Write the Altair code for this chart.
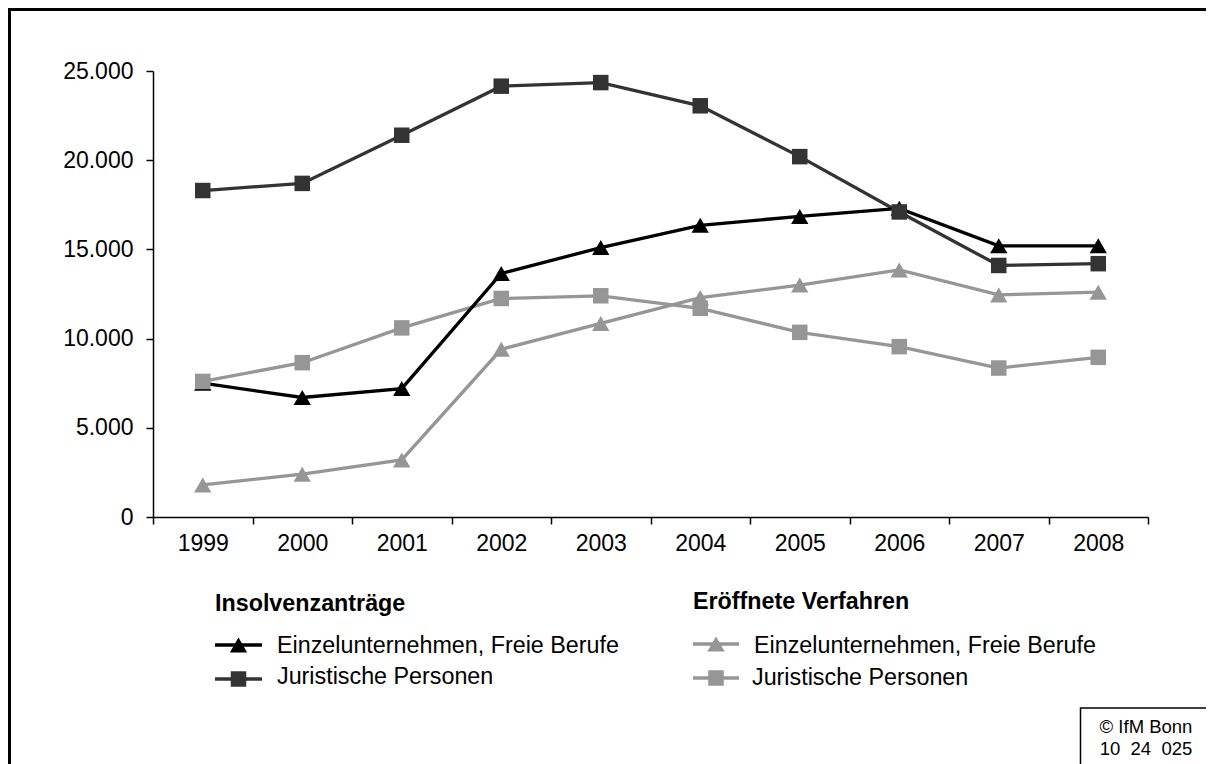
import altair as alt
import pandas as pd

# ---- data ----
years = ["1999", "2000", "2001", "2002", "2003", "2004", "2005", "2006", "2007", "2008"]
ins_einzel = [7500, 6700, 7200, 13650, 15100, 16350, 16850, 17300, 15200, 15200]
ins_jur = [18300, 18700, 21400, 24150, 24350, 23050, 20200, 17100, 14100, 14200]
er_einzel = [1800, 2400, 3200, 9400, 10850, 12300, 13000, 13850, 12450, 12600]
er_jur = [7600, 8650, 10600, 12250, 12400, 11700, 10350, 9550, 8350, 8950]
y_ticks = [0, 5000, 10000, 15000, 20000, 25000]

legend_head_left = "Insolvenzanträge"
legend_head_right = "Eröffnete Verfahren"
label_einzel = "Einzelunternehmen, Freie Berufe"
label_jur = "Juristische Personen"
copyright_lines = ["© IfM Bonn", "10\u00a0\u00a024\u00a0\u00a0025"]

FONT = "Liberation Sans"
FS = 23
LFS = 23.3
BLACK = "#000000"
DARK = "#333333"
GREY = "#969696"
LW = 3.3
SQ_SIZE = 240
TRI_SIZE = 300

W, H = 995, 446

series = [
    ("ins_einzel", ins_einzel, BLACK, "triangle-up"),
    ("ins_jur", ins_jur, DARK, "square"),
    ("er_einzel", er_einzel, GREY, "triangle-up"),
    ("er_jur", er_jur, GREY, "square"),
]

x_enc = alt.X(
    "year:O",
    sort=years,
    bandPosition=0.5,
    scale=alt.Scale(type="band", paddingInner=0, paddingOuter=0),
    axis=alt.Axis(
        title=None, labelAngle=0, tickBand="extent", tickSize=7,
        labelPadding=8, labelFontSize=FS, labelFont=FONT, labelColor="black",
        domainColor="black", tickColor="black", domainWidth=1.5, tickWidth=1.5,
    ),
)
y_enc = alt.Y(
    "value:Q",
    scale=alt.Scale(domain=[0, 25000], nice=False),
    axis=alt.Axis(
        title=None, values=y_ticks, tickSize=7, labelPadding=13,
        labelFontSize=FS, labelFont=FONT, labelColor="black",
        domainColor="black", tickColor="black", domainWidth=1.5, tickWidth=1.5,
        grid=False,
        labelExpr="replace(format(datum.value, ','), ',', '.')",
    ),
)

frames = {}
for name, vals, col, shp in series:
    frames[name] = pd.DataFrame({"year": years, "value": vals})


def msize(shp):
    return TRI_SIZE if shp == "triangle-up" else SQ_SIZE


line_layers = []
for name in ["er_jur", "er_einzel", "ins_jur", "ins_einzel"]:
    col = [s[2] for s in series if s[0] == name][0]
    line_layers.append(
        alt.Chart(frames[name]).mark_line(color=col, strokeWidth=LW).encode(x=x_enc, y=y_enc)
    )
point_layers = []
for name, vals, col, shp in series:
    point_layers.append(
        alt.Chart(frames[name]).mark_point(
            shape=shp, filled=True, color=col, size=msize(shp), opacity=1
        ).encode(x=x_enc, y=y_enc)
    )

one = pd.DataFrame({"a": [0]})


def text(t, x, y, bold=False, size=LFS, align="left"):
    return alt.Chart(one).mark_text(
        text=t, font=FONT, fontSize=size, fontWeight="bold" if bold else "normal",
        align=align, baseline="alphabetic", color="black",
    ).encode(x=alt.value(x), y=alt.value(y))


def legend_symbol(x1, x2, y, col, shp):
    rule = alt.Chart(one).mark_rule(color=col, strokeWidth=LW).encode(
        x=alt.value(x1), x2=alt.value(x2), y=alt.value(y)
    )
    pt = alt.Chart(one).mark_point(
        shape=shp, filled=True, color=col, size=msize(shp), opacity=1
    ).encode(x=alt.value((x1 + x2) / 2), y=alt.value(y))
    return [rule, pt]


deco = []
# outer frame (left and top edges)
deco.append(alt.Chart(one).mark_rule(color="black", strokeWidth=3).encode(
    x=alt.value(-143.5), y=alt.value(-62), y2=alt.value(720)))
deco.append(alt.Chart(one).mark_rule(color="black", strokeWidth=3).encode(
    x=alt.value(-145), x2=alt.value(1100), y=alt.value(-61.5)))

# legend
deco.append(text(legend_head_left, 62, 540, bold=True))
deco.append(text(legend_head_right, 540, 538, bold=True))
deco += legend_symbol(62, 109, 574, BLACK, "triangle-up")
deco += legend_symbol(62, 109, 608, DARK, "square")
deco += legend_symbol(540, 586, 573, GREY, "triangle-up")
deco += legend_symbol(540, 586, 607, GREY, "square")
deco.append(text(label_einzel, 124, 582))
deco.append(text(label_jur, 124, 613))
deco.append(text(label_einzel, 601, 582))
deco.append(text(label_jur, 599, 614))

# copyright box
deco.append(alt.Chart(one).mark_rect(fill="white", stroke="black", strokeWidth=1.5).encode(
    x=alt.value(927.5), x2=alt.value(1100), y=alt.value(637), y2=alt.value(760)))
deco.append(text(copyright_lines[0], 993, 662, size=18.5, align="center"))
deco.append(text(copyright_lines[1], 993, 684, size=18.5, align="center"))

chart = alt.layer(*line_layers, *point_layers, *deco).properties(
    width=W, height=H,
    autosize=alt.AutoSizeParams(type="none"),
    padding={"left": 145, "top": 63, "right": 58, "bottom": 247},
).configure(background="white").configure_view(stroke=None)

chart.save("out.html", embed_options={"renderer": "svg", "actions": False})
